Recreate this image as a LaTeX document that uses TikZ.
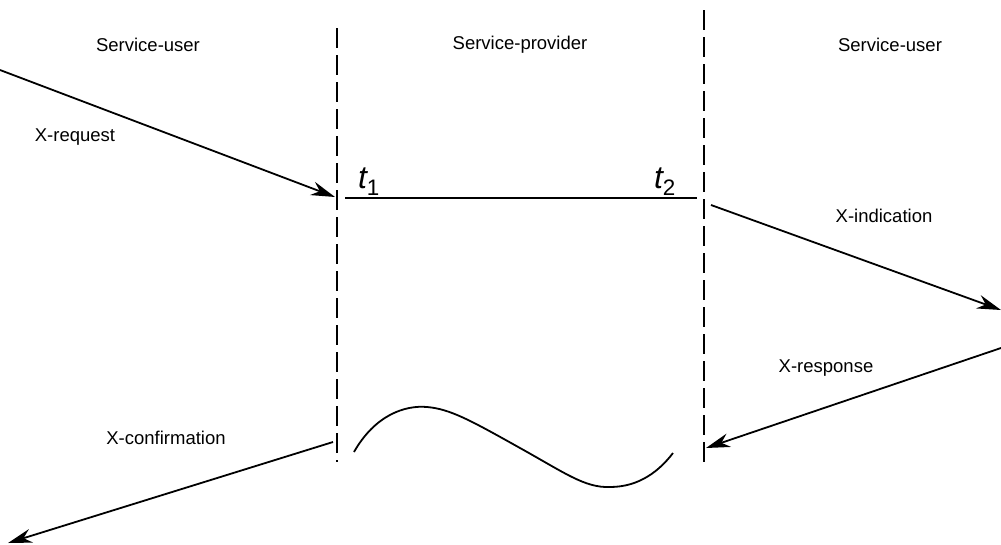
\documentclass[tikz,border=0pt]{standalone}
\usepackage{fontspec}
\setmainfont{Liberation Sans}
\usetikzlibrary{arrows.meta}
\begin{document}
\begin{tikzpicture}[x=1pt,y=-1pt,
  lbl/.style={font=\fontsize{18.5}{22}\selectfont, inner sep=0pt},
  tlbl/.style={font=\fontsize{32}{36}\selectfont\itshape, inner sep=0pt},
  bound/.style={line width=1.9pt, dash pattern=on 20pt off 7pt},
  msg/.style={line width=1.8pt, -{Stealth[length=24pt,width=14pt]}},
  plain/.style={line width=1.8pt}]
\useasboundingbox (0,0) rectangle (1001,544);
% boundaries
\coordinate (L1) at (337,28);
\coordinate (L2) at (337,462);
\coordinate (R1) at (704,10);
\coordinate (R2) at (704,462);
\draw[bound] (L1) -- (L2);
\draw[bound] (R1) -- (R2);
% headers
\node[lbl] (su1) at (148,45) {Service-user};
\node[lbl] (sp) at (520,45) {Service-provider};
\node[lbl] (su2) at (890,45) {Service-user};
% labels
\node[lbl] (req) at (75,137) {X-request};
\node[lbl] (ind) at (884,216) {X-indication};
\node[lbl] (resp) at (826,368) {X-response};
\node[lbl] (conf) at (166,438) {X-confirmation};
\node[tlbl] (t1) at (369,182) {t\textsubscript{\upshape 1}};
\node[tlbl] (t2) at (665,182) {t\textsubscript{\upshape 2}};
% arrows
\coordinate (a1) at (0,70);
\coordinate (a2) at (335,197);
\draw[msg] (a1) -- (a2);
\coordinate (b1) at (711,205);
\coordinate (b2) at (1001,310);
\draw[msg] (b1) -- (b2);
\coordinate (c1) at (1001,348);
\coordinate (c2) at (706,448);
\draw[msg] (c1) -- (c2);
\coordinate (d1) at (333,442);
\coordinate (d2) at (8,543);
\draw[msg] (d1) -- (d2);
% horizontal line
\coordinate (h1) at (345,198);
\coordinate (h2) at (697,198);
\draw[plain] (h1) -- (h2);
% wave
\coordinate (w0) at (354,452);
\coordinate (w1) at (427,407);
\coordinate (w2) at (610,487);
\coordinate (w3) at (673,453);
\draw[plain] (w0) .. controls (375,415) and (405,405) .. (w1)
  .. controls (450,409) and (470,420) .. (520,448)
  .. controls (565,473) and (585,488) .. (w2)
  .. controls (640,487) and (660,470) .. (w3);
\end{tikzpicture}
\end{document}
